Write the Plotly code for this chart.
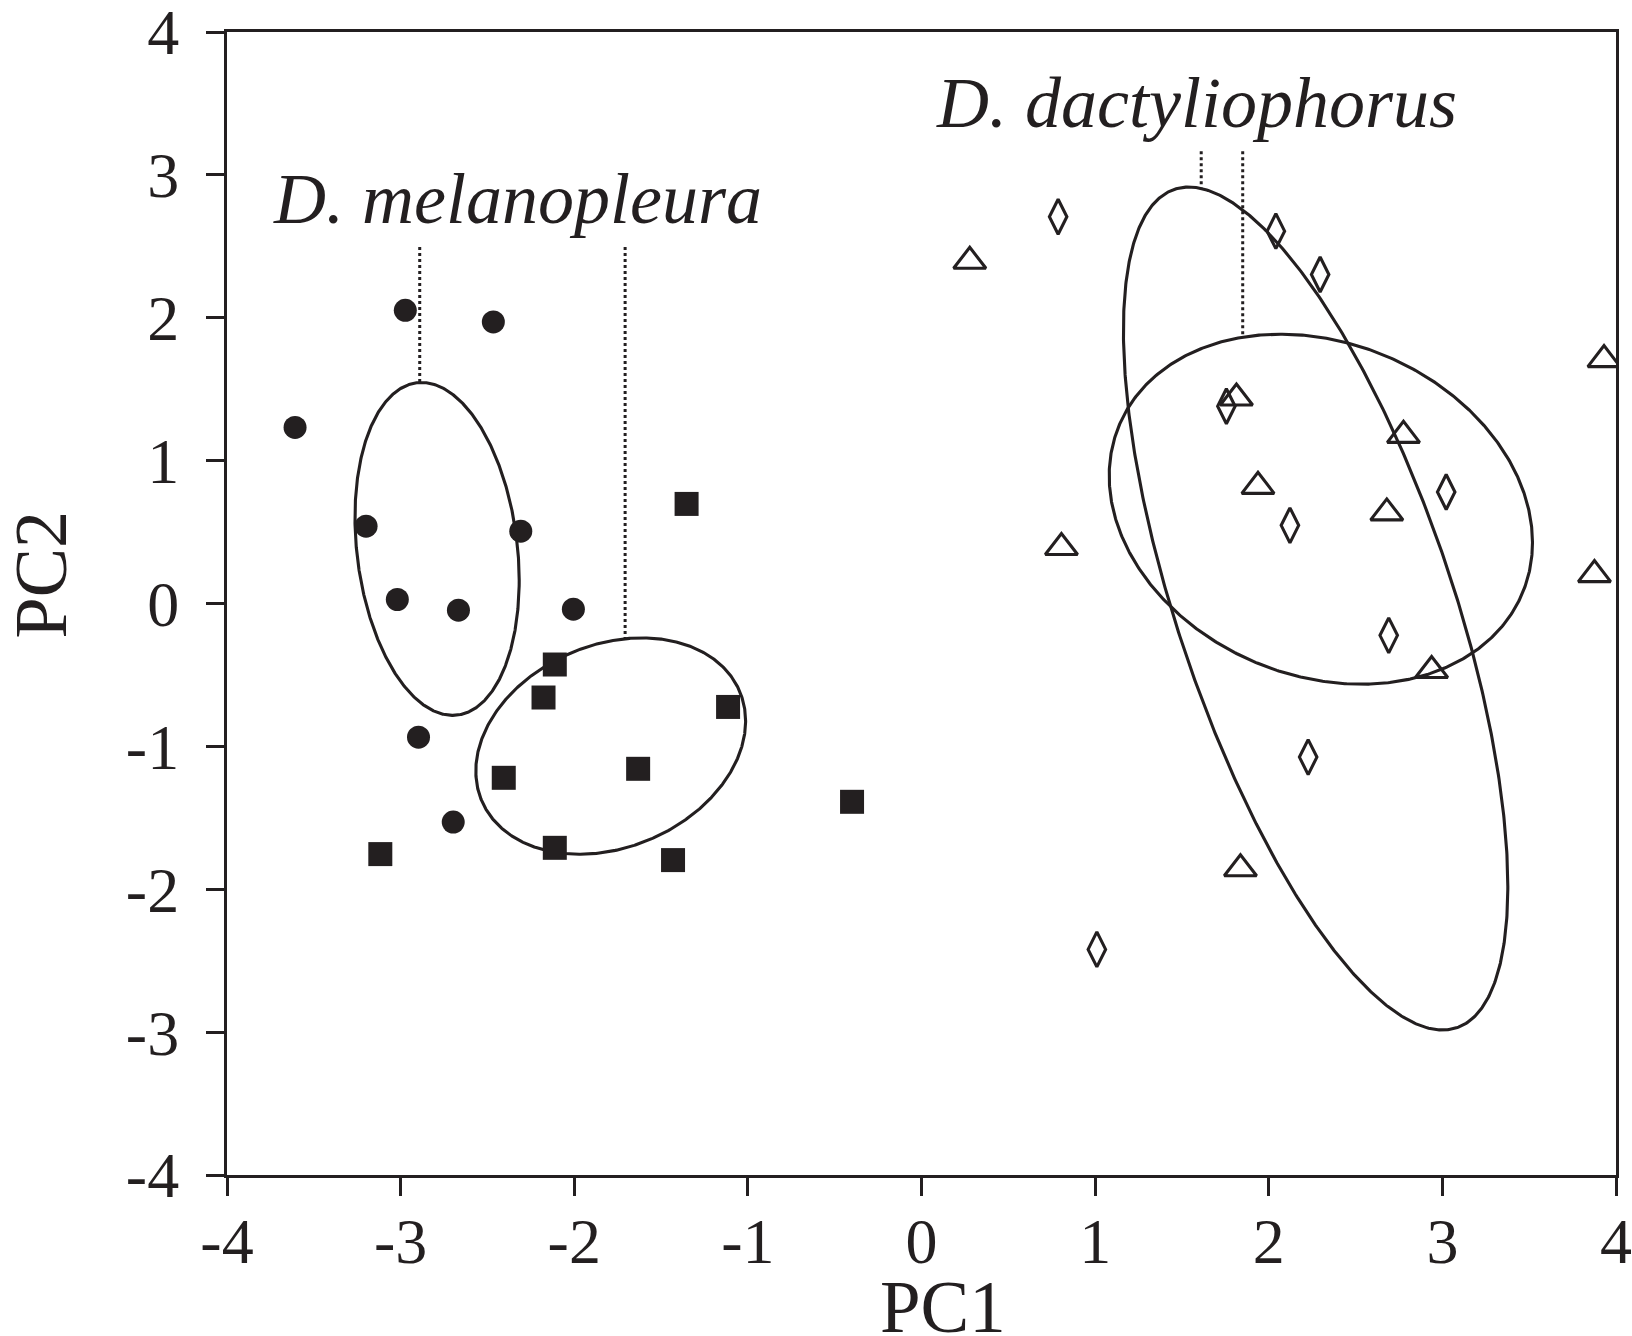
import numpy as np
import plotly.graph_objects as go

# ---------------- data ----------------
circle_pc1 = [-3.608, -2.973, -2.466, -3.199, -2.308, -3.019, -2.667, -2.005, -2.897, -2.697]
circle_pc2 = [1.232, 2.052, 1.971, 0.541, 0.506, 0.028, -0.047, -0.040, -0.936, -1.530]

square_pc1 = [-1.353, -2.112, -2.177, -1.114, -2.406, -1.632, -0.400, -3.117, -2.112, -1.431]
square_pc2 = [0.697, -0.427, -0.658, -0.724, -1.220, -1.157, -1.388, -1.754, -1.710, -1.796]

triangle_pc1 = [0.278, 0.806, 1.814, 1.938, 2.776, 2.680, 2.938, 3.931, 3.876, 1.837]
triangle_pc2 = [2.395, 0.392, 1.438, 0.820, 1.177, 0.634, -0.469, 1.707, 0.202, -1.856]

diamond_pc1 = [0.787, 2.041, 2.296, 1.756, 2.122, 3.022, 2.691, 2.227, 1.010]
diamond_pc2 = [2.707, 2.606, 2.303, 1.381, 0.547, 0.780, -0.223, -1.075, -2.421]

# ellipses: centre, half-width (x), half-height (y), y-offset of the right-most point (tilt)
ellipse_group = ["circles", "squares", "triangles", "diamonds"]
ellipse_cx = [-2.790, -1.790, 2.300, 2.270]
ellipse_cy = [0.382, -0.998, 0.660, -0.035]
ellipse_rx = [0.473, 0.777, 1.219, 1.107]
ellipse_ry = [1.165, 0.757, 1.225, 2.950]
ellipse_tilt = [-0.220, 0.175, -0.233, -1.946]

# dotted leader lines from species labels to ellipses
leader_x = [-2.890, -1.707, 1.611, 1.850]
leader_y_top = [2.495, 2.495, 3.166, 3.166]
leader_y_bottom = [1.547, -0.247, 2.910, 1.864]

species_labels = ["D. melanopleura", "D. dactyliophorus"]
species_label_x = [-3.748, 0.072]
species_label_y = [2.647, 3.324]

x_title = "PC1"
y_title = "PC2"

x_tick_vals = [-4, -3, -2, -1, 0, 1, 2, 3, 4]
x_tick_text = ["-4", "-3", "-2", "-1", "0", "1", "2", "3", "4"]
y_tick_vals = [-4, -3, -2, -1, 0, 1, 2, 3, 4]
y_tick_text = ["-4", "-3", "-2", "-1", "0", "1", "2", "3", "4"]

# ---------------- styling ----------------
INK = "#231f20"
FONT = "Liberation Serif"
LW = 3.1

fig = go.Figure()

t = np.linspace(0, 2 * np.pi, 721)
for name, cx, cy, rx, ry, k in zip(ellipse_group, ellipse_cx, ellipse_cy,
                                     ellipse_rx, ellipse_ry, ellipse_tilt):
    q = np.sqrt(ry ** 2 - k ** 2)
    fig.add_trace(go.Scatter(
        x=cx + rx * np.cos(t),
        y=cy + k * np.cos(t) + q * np.sin(t),
        mode="lines", name=name + " ellipse",
        line=dict(color=INK, width=LW),
        hoverinfo="skip", showlegend=False))

for lx, ly0, ly1 in zip(leader_x, leader_y_top, leader_y_bottom):
    fig.add_trace(go.Scatter(
        x=[lx, lx], y=[ly0, ly1], mode="lines",
        line=dict(color=INK, width=3, dash="3px,3px"),
        hoverinfo="skip", showlegend=False))

fig.add_trace(go.Scatter(
    x=circle_pc1, y=circle_pc2, mode="markers", name="circles",
    marker=dict(symbol="circle", size=23, color=INK, line=dict(width=0)),
    showlegend=False))
fig.add_trace(go.Scatter(
    x=square_pc1, y=square_pc2, mode="markers", name="squares",
    marker=dict(symbol="square", size=24, color=INK, line=dict(width=0)),
    showlegend=False))
fig.add_trace(go.Scatter(
    x=triangle_pc1, y=triangle_pc2, mode="markers", name="triangles",
    marker=dict(symbol="triangle-up-open", size=28, color=INK,
                line=dict(color=INK, width=LW)),
    showlegend=False))
fig.add_trace(go.Scatter(
    x=diamond_pc1, y=diamond_pc2, mode="markers", name="diamonds",
    marker=dict(symbol="diamond-tall-open", size=25, color=INK,
                line=dict(color=INK, width=LW)),
    showlegend=False))

for txt, ax_, ay_ in zip(species_labels, species_label_x, species_label_y):
    fig.add_annotation(
        x=ax_, y=ay_, xref="x", yref="y", text=txt, showarrow=False,
        xanchor="left", yanchor="bottom", yshift=-16,
        font=dict(family=FONT, size=72, color=INK, style="italic"))

# axis titles (placed as in the reference)
fig.add_annotation(
    x=0.5155, y=0, xref="paper", yref="paper", text=x_title, showarrow=False,
    xanchor="center", yanchor="top", yshift=-90,
    font=dict(family=FONT, size=73, color=INK))
fig.add_annotation(
    x=-0.1336, y=0.5258, xref="paper", yref="paper", text=y_title,
    showarrow=False, textangle=-90,
    xanchor="center", yanchor="middle",
    font=dict(family=FONT, size=74, color=INK))

axis_common = dict(
    range=[-4, 4], tickmode="array",
    showline=True, linecolor=INK, linewidth=LW, mirror=True,
    ticks="outside", ticklen=18, tickwidth=LW, tickcolor=INK,
    showgrid=False, zeroline=False, ticklabeloverflow="allow",
    tickfont=dict(family=FONT, size=64, color=INK),
)

fig.update_layout(
    width=1632, height=1336,
    margin=dict(l=227, r=16, t=32, b=161, autoexpand=False),
    paper_bgcolor="white", plot_bgcolor="white",
    xaxis=dict(axis_common, tickvals=x_tick_vals, ticktext=x_tick_text,
               ticklabelstandoff=-10),
    yaxis=dict(axis_common, tickvals=y_tick_vals, ticktext=y_tick_text,
               ticklabelstandoff=14),
)

fig.write_html("out.html")
